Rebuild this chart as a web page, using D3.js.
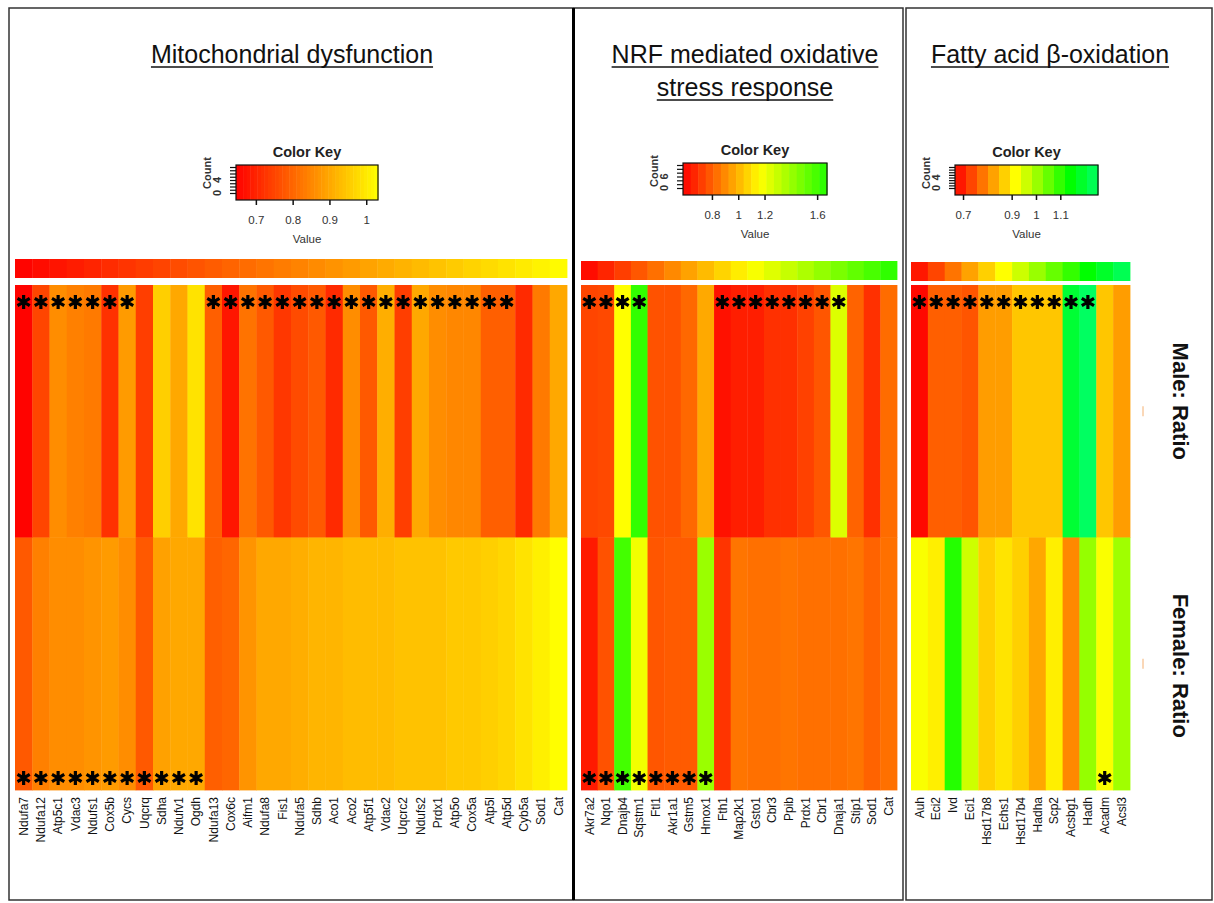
<!DOCTYPE html>
<html>
<head>
<meta charset="utf-8">
<script src="https://cdn.jsdelivr.net/npm/d3@7"></script>
<style>
  body { margin: 0; background: #fff; }
  text { font-family: "Liberation Sans", Arial, sans-serif; }
</style>
</head>
<body>
<svg id="chart" width="1214" height="903"></svg>
<script>
// ---- data ----
const rows = ["Male: Ratio", "Female: Ratio"];

const mitoGenes = ["Ndufa7", "Ndufa12", "Atp5c1", "Vdac3", "Ndufs1", "Cox5b", "Cycs", "Uqcrq", "Sdha", "Ndufv1", "Ogdh",
  "Ndufa13", "Cox6c", "Aifm1", "Ndufa8", "Fis1", "Ndufa5", "Sdhb", "Aco1", "Aco2", "Atp5f1", "Vdac2", "Uqcrc2",
  "Ndufs2", "Prdx1", "Atp5o", "Cox5a", "Atp5l", "Atp5d", "Cyb5a", "Sod1", "Cat"];
const mitoMale = [0.65, 0.75, 0.86, 0.84, 0.83, 0.72, 0.88, 0.74, 0.96, 0.90, 0.99,
  0.79, 0.68, 0.82, 0.78, 0.73, 0.76, 0.78, 0.71, 0.86, 0.78, 0.91, 0.74,
  0.90, 0.86, 0.85, 0.85, 0.79, 0.79, 0.71, 0.83, 0.90];
const mitoFemale = [0.78, 0.84, 0.86, 0.86, 0.87, 0.88, 0.86, 0.78, 0.89, 0.90, 0.90,
  0.79, 0.80, 0.87, 0.90, 0.90, 0.91, 0.92, 0.92, 0.93, 0.93, 0.93, 0.94,
  0.94, 0.94, 0.95, 0.95, 0.96, 0.97, 0.99, 1.01, 1.03];
const mitoMaleStar = [1, 1, 1, 1, 1, 1, 1, 0, 0, 0, 0, 1, 1, 1, 1, 1, 1, 1, 1, 1, 1, 1, 1, 1, 1, 1, 1, 1, 1, 0, 0, 0];
const mitoFemaleStar = [1, 1, 1, 1, 1, 1, 1, 1, 1, 1, 1, 0, 0, 0, 0, 0, 0, 0, 0, 0, 0, 0, 0, 0, 0, 0, 0, 0, 0, 0, 0, 0];
const mitoKeyTicks = [0.7, 0.8, 0.9, 1];

const nrfGenes = ["Akr7a2", "Nqo1", "Dnajb4", "Sqstm1", "Ftl1", "Akr1a1", "Gstm5", "Hmox1", "Fth1", "Map2k1",
  "Gsto1", "Cbr3", "Ppib", "Prdx1", "Cbr1", "Dnaja1", "Stip1", "Sod1", "Cat"];
const nrfMale = [0.74, 0.75, 1.17, 1.64, 0.77, 0.77, 0.82, 0.97, 0.62, 0.65,
  0.65, 0.69, 0.69, 0.73, 0.78, 1.25, 0.81, 0.69, 0.83];
const nrfFemale = [0.64, 0.77, 1.60, 1.20, 0.78, 0.79, 0.79, 1.40, 0.70, 0.85,
  0.84, 0.84, 0.85, 0.84, 0.84, 0.84, 0.85, 0.81, 0.84];
const nrfMaleStar = [1, 1, 1, 1, 0, 0, 0, 0, 1, 1, 1, 1, 1, 1, 1, 1, 0, 0, 0];
const nrfFemaleStar = [1, 1, 1, 1, 1, 1, 1, 1, 0, 0, 0, 0, 0, 0, 0, 0, 0, 0, 0];
const nrfKeyTicks = [0.8, 1, 1.2, 1.6];

const faoGenes = ["Auh", "Eci2", "Ivd", "Eci1", "Hsd17b8", "Echs1", "Hsd17b4", "Hadha", "Scp2", "Acsbg1",
  "Hadh", "Acadm", "Acsl3"];
const faoMale = [0.675, 0.76, 0.76, 0.75, 0.82, 0.82, 0.86, 0.86, 0.86, 1.20, 1.25, 0.86, 0.82];
const faoFemale = [0.92, 0.90, 1.11, 0.96, 0.87, 0.89, 0.87, 0.83, 0.90, 0.80, 1.01, 0.92, 1.00];
const faoMaleStar = [1, 1, 1, 1, 1, 1, 1, 1, 1, 1, 1, 0, 0];
const faoFemaleStar = [0, 0, 0, 0, 0, 0, 0, 0, 0, 0, 0, 1, 0];
const faoKeyTicks = [0.7, 0.9, 1, 1.1];

// ---- layout ----
const svg = d3.select("#chart");
const heatTop = 285, heatBottom = 790;

const panels = [
  {
    title: ["Mitochondrial dysfunction"], titleX: 292,
    genes: mitoGenes, values: [mitoMale, mitoFemale], stars: [mitoMaleStar, mitoFemaleStar],
    color: d3.scaleLinear().domain([0.646, 1.032]).range(["#ff0000", "#ffff00"]).clamp(true),
    keyDomain: [0.646, 1.032], keyTicks: mitoKeyTicks, keyBands: 40, countMax: 4,
    left: 15, right: 567, barY: 259,
    key: { x: 236, y: 165, w: 142, h: 35 }
  },
  {
    title: ["NRF mediated oxidative ", "stress response"], titleX: 745,
    genes: nrfGenes, values: [nrfMale, nrfFemale], stars: [nrfMaleStar, nrfFemaleStar],
    color: d3.scaleLinear().domain([0.58, 1.17, 1.675]).range(["#ff0000", "#ffff00", "#22ff00"]).clamp(true),
    keyDomain: [0.58, 1.675], keyTicks: nrfKeyTicks, keyBands: 19, countMax: 6,
    left: 581, right: 897, barY: 261,
    key: { x: 683, y: 163, w: 144, h: 32 }
  },
  {
    title: ["Fatty acid \u03b2-oxidation"], titleX: 1050,
    genes: faoGenes, values: [faoMale, faoFemale], stars: [faoMaleStar, faoFemaleStar],
    color: d3.scaleLinear().domain([0.667, 0.916, 1.142, 1.255]).range(["#ff0000", "#ffff00", "#00ff00", "#00ff66"]).clamp(true),
    keyDomain: [0.667, 1.255], keyTicks: faoKeyTicks, keyBands: 13, countMax: 4,
    left: 911, right: 1130, barY: 262,
    key: { x: 955, y: 165, w: 143, h: 30 }
  }
];

// panel frames
const frames = [[9, 8, 564, 892], [574, 8, 329, 892], [906, 8, 306, 892]];
svg.selectAll("rect.frame").data(frames).join("rect")
  .attr("class", "frame")
  .attr("x", d => d[0]).attr("y", d => d[1])
  .attr("width", d => d[2]).attr("height", d => d[3])
  .attr("fill", "none").attr("stroke", "#333").attr("stroke-width", 1.5);
svg.append("line").attr("x1", 573.5).attr("x2", 573.5).attr("y1", 8).attr("y2", 900)
  .attr("stroke", "#000").attr("stroke-width", 3);

const y = d3.scaleBand().domain(rows).range([heatTop, heatBottom]);
const star = d3.symbol().type(d3.symbolAsterisk).size(140);

panels.forEach(p => {
  const g = svg.append("g");
  const x = d3.scaleBand().domain(p.genes).range([p.left, p.right]);

  // title (underlined)
  p.title.forEach((t, i) => {
    const txt = g.append("text")
      .attr("x", p.titleX).attr("y", 63 + i * 33)
      .attr("text-anchor", "middle")
      .attr("font-size", 25).attr("fill", "#111")
      .text(t);
    const w = txt.node().getComputedTextLength();
    g.append("line")
      .attr("x1", p.titleX - w / 2).attr("x2", p.titleX + w / 2)
      .attr("y1", 67 + i * 33).attr("y2", 67 + i * 33)
      .attr("stroke", "#111").attr("stroke-width", 1.4);
  });

  // colour key
  const k = p.key;
  const kx = d3.scaleLinear().domain(p.keyDomain).range([k.x, k.x + k.w]);
  const step = (p.keyDomain[1] - p.keyDomain[0]) / p.keyBands;
  const bands = d3.range(p.keyBands).map(i => p.keyDomain[0] + i * step);
  g.selectAll("rect.key").data(bands).join("rect")
    .attr("class", "key")
    .attr("x", d => kx(d)).attr("y", k.y)
    .attr("width", kx(p.keyDomain[0] + step) - kx(p.keyDomain[0]) + 0.5)
    .attr("height", k.h)
    .attr("fill", d => p.color(d + step / 2));
  g.append("rect").attr("x", k.x).attr("y", k.y).attr("width", k.w).attr("height", k.h)
    .attr("fill", "none").attr("stroke", "#111").attr("stroke-width", 1.2);
  g.append("text").attr("x", k.x + k.w / 2).attr("y", k.y - 8)
    .attr("text-anchor", "middle").attr("font-size", 14.5).attr("font-weight", "bold")
    .attr("fill", "#222").text("Color Key");

  const kAxis = g.append("g").attr("transform", `translate(0,${k.y + k.h})`)
    .call(d3.axisBottom(kx).tickValues(p.keyTicks).tickSize(5).tickFormat(d3.format("~g")));
  kAxis.select(".domain").remove();
  kAxis.selectAll("line").attr("stroke", "#111").attr("stroke-width", 1.5);
  kAxis.selectAll("text").attr("font-size", 11.5).attr("fill", "#333").attr("dy", "1.4em");
  g.append("text").attr("x", k.x + k.w / 2).attr("y", k.y + k.h + 43)
    .attr("text-anchor", "middle").attr("font-size", 11.5).attr("fill", "#333").text("Value");

  // count axis on the key's left side
  const cy = d3.scaleLinear().domain([0, p.countMax * 2]).range([k.y + k.h - 7, k.y + 2]);
  const cAxis = g.append("g").attr("transform", `translate(${k.x},0)`)
    .call(d3.axisLeft(cy).ticks(8).tickSize(6).tickFormat(""));
  cAxis.select(".domain").remove();
  cAxis.selectAll("line").attr("stroke", "#111").attr("stroke-width", 1.2);
  g.selectAll("text.cnt").data([0, p.countMax]).join("text")
    .attr("class", "cnt")
    .attr("transform", d => `translate(${k.x - 15},${cy(d)}) rotate(-90)`)
    .attr("text-anchor", "middle").attr("font-size", 11).attr("font-weight", "bold")
    .attr("fill", "#333").text(d => d);
  g.append("text").attr("transform", `translate(${k.x - 25},${k.y + 8}) rotate(-90)`)
    .attr("text-anchor", "middle").attr("font-size", 11).attr("font-weight", "bold")
    .attr("fill", "#333").text("Count");

  // top colour bar
  const barVals = p.genes.map((gname, i) => p.keyDomain[0] + (i + 0.5) * (p.keyDomain[1] - p.keyDomain[0]) / p.genes.length);
  g.selectAll("rect.bar").data(p.genes).join("rect")
    .attr("class", "bar")
    .attr("x", d => x(d)).attr("y", p.barY)
    .attr("width", x.bandwidth() + 0.4).attr("height", 19)
    .attr("fill", (d, i) => p.color(barVals[i]));

  // heat cells
  const cells = [];
  rows.forEach((r, ri) => p.genes.forEach((gname, gi) =>
    cells.push({ row: r, gene: gname, v: p.values[ri][gi], s: p.stars[ri][gi], ri })));
  g.selectAll("rect.cell").data(cells).join("rect")
    .attr("class", "cell")
    .attr("x", d => x(d.gene)).attr("y", d => y(d.row))
    .attr("width", x.bandwidth() + 0.4).attr("height", y.bandwidth() + 0.4)
    .attr("fill", d => p.color(d.v));

  // asterisks
  g.selectAll("path.star").data(cells.filter(d => d.s)).join("path")
    .attr("class", "star")
    .attr("d", star)
    .attr("transform", d => `translate(${x(d.gene) + x.bandwidth() / 2},${d.ri === 0 ? heatTop + 17 : heatBottom - 12})`)
    .attr("fill", "none").attr("stroke", "#000").attr("stroke-width", 3.2);

  // gene labels
  const gAxis = g.append("g").attr("transform", `translate(0,${heatBottom + 4})`)
    .call(d3.axisBottom(x).tickSize(0));
  gAxis.select(".domain").remove();
  gAxis.selectAll("text")
    .attr("font-size", 12).attr("fill", "#111")
    .attr("text-anchor", "end")
    .attr("transform", "rotate(-90)")
    .attr("x", -3).attr("y", 0).attr("dy", "0.35em");
});

// row labels on the right
svg.selectAll("text.rowlab").data(rows).join("text")
  .attr("class", "rowlab")
  .attr("transform", (d, i) => `translate(1173,${y(d) + y.bandwidth() / 2 + (i === 0 ? -10 : 2)}) rotate(90)`)
  .attr("text-anchor", "middle")
  .attr("font-size", 22).attr("font-weight", "bold").attr("fill", "#111")
  .text(d => d);
svg.selectAll("line.rowtick").data(rows).join("line")
  .attr("class", "rowtick")
  .attr("x1", 1143).attr("x2", 1143)
  .attr("y1", d => y(d) + y.bandwidth() / 2 - 5).attr("y2", d => y(d) + y.bandwidth() / 2 + 5)
  .attr("stroke", "#f5b070").attr("stroke-width", 1);
</script>
</body>
</html>
